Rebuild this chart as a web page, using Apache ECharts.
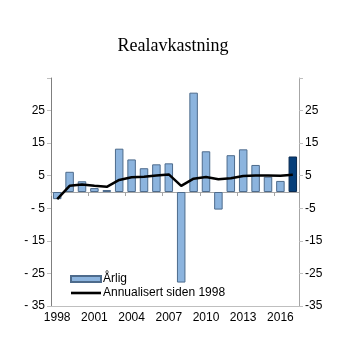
<!DOCTYPE html>
<html><head><meta charset="utf-8">
<script src="https://cdn.jsdelivr.net/npm/echarts@6/dist/echarts.min.js"></script>
<style>html,body{margin:0;padding:0;background:#fff}#c{width:346px;height:341px}</style>
</head><body><div id="c"></div>
<script>
const years = ['1998','1999','2000','2001','2002','2003','2004','2005','2006','2007','2008','2009','2010','2011','2012','2013','2014','2015','2016','2017'];
const arlig = [-2.2, 6.2, 3.3, 1.2, 0.6, 13.3, 10.0, 7.3, 8.5, 8.8, -27.8, 30.5, 12.5, -5.4, 11.3, 13.1, 8.3, 4.7, 3.4, 10.9];
const annualisert = [-2.2, 1.9, 2.3, 1.9, 1.6, 3.7, 4.5, 4.7, 5.1, 5.4, 1.9, 4.1, 4.6, 3.9, 4.2, 4.9, 5.1, 5.1, 5.0, 5.3];
const yTicks = [-35, -25, -15, -5, 5, 15, 25];

const font = 'Liberation Sans, Arial, sans-serif';
const chart = echarts.init(document.getElementById('c'), null, {renderer: 'canvas'});
const barData = arlig.map((v, i) => i === arlig.length - 1
  ? {value: v, itemStyle: {color: '#063f7a', borderColor: '#0a2a50'}}
  : v);
chart.setOption({
  animation: false,
  title: {text: 'Realavkastning', left: 'center', top: 32,
    textStyle: {fontFamily: 'Liberation Serif, Times New Roman, serif', fontSize: 18, fontWeight: 'normal', color: '#000'}},
  grid: {left: 51, right: 47, top: 78, bottom: 35},
  legend: {
    orient: 'vertical', left: 65, top: 268, itemWidth: 30, itemHeight: 6, itemGap: 2,
    textStyle: {fontFamily: font, fontSize: 12, color: '#000', padding: [0, 0, 0, -3]},
    data: [{name: 'Årlig', icon: 'rect'},
           {name: 'Annualisert siden 1998', icon: 'path://M0,0H30V2.6H0Z', itemStyle: {color: '#000'}}]
  },
  xAxis: [
    {type: 'category', data: years, position: 'bottom',
      axisLine: {onZero: false, lineStyle: {color: '#bfbfbf', width: 1}},
      axisTick: {show: false},
      axisLabel: {interval: 2, color: '#000', fontFamily: font, fontSize: 12, margin: 6}},
    {type: 'category', data: years, position: 'bottom',
      axisLine: {onZero: true, lineStyle: {color: '#a6a6a6', width: 1}},
      axisTick: {show: true, interval: 2, length: 4, lineStyle: {color: '#a6a6a6'}},
      axisLabel: {show: false}}
  ],
  yAxis: [
    {type: 'value', min: -35, max: 35, interval: 10, position: 'left',
      splitLine: {show: false},
      axisLine: {show: true, lineStyle: {color: '#7f7f7f'}},
      axisTick: {show: true, length: 4, lineStyle: {color: '#bfbfbf'}},
      axisLabel: {color: '#000', fontFamily: font, fontSize: 12, margin: 6,
        formatter: v => yTicks.includes(v) ? (v < 0 ? '- ' + (-v) : String(v)) : ''}},
    {type: 'value', min: -35, max: 35, interval: 10, position: 'right',
      splitLine: {show: false},
      axisLine: {show: true, lineStyle: {color: '#a6a6a6'}},
      axisTick: {show: true, length: 4, lineStyle: {color: '#bfbfbf'}},
      axisLabel: {color: '#000', fontFamily: font, fontSize: 12, margin: 6,
        formatter: v => yTicks.includes(v) ? String(v) : ''}}
  ],
  series: [
    {name: 'Årlig', type: 'bar', data: barData, barWidth: 8.5, xAxisIndex: 0, yAxisIndex: 0,
      itemStyle: {color: '#8cb4de', borderColor: '#4d6b8c', borderWidth: 1}},
    {name: 'Annualisert siden 1998', type: 'line', data: annualisert, xAxisIndex: 0, yAxisIndex: 0,
      symbol: 'none', lineStyle: {color: '#000', width: 2.5}, itemStyle: {color: '#000'}, z: 5}
  ]
});
</script></body></html>
